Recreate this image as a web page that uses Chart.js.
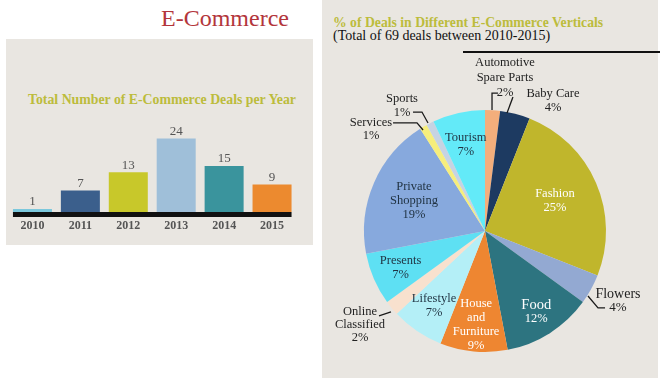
<!DOCTYPE html>
<html>
<head>
<meta charset="utf-8">
<script src="https://cdn.jsdelivr.net/npm/chart.js@4"></script>
<style>
  html, body { margin: 0; padding: 0; background: #fff; }
  body { position: relative; width: 666px; height: 392px; overflow: hidden; font-family: "Liberation Serif", serif; }
  .panel { position: absolute; background: #e9e6e1; }
  .txt { position: absolute; white-space: nowrap; line-height: 1; }
  .center { transform: translate(-50%, -50%); }
  .leftmid { transform: translateY(-50%); }
  canvas { position: absolute; }
</style>
</head>
<body>
<div class="panel" style="left:6px; top:39px; width:307px; height:206px;"></div>
<div class="panel" style="left:322px; top:0px; width:336px; height:378px;"></div>

<div class="txt center" style="left:225px; top:18px; font-size:24px; color:#b3353b;">E-Commerce</div>
<div class="txt center" style="left:162px; top:100px; font-size:13.8px; font-weight:bold; color:#bcbc3c;">Total Number of E-Commerce Deals per Year</div>

<div class="txt leftmid" style="left:333px; top:23px; font-size:13.7px; font-weight:bold; color:#bcbc3c;">% of Deals in Different E-Commerce Verticals</div>
<div class="txt leftmid" style="left:333px; top:36px; font-size:14px; color:#111;">(Total of 69 deals between 2010-2015)</div>
<div style="position:absolute; left:463px; top:51px; width:197px; height:1.5px; background:#111;"></div>

<canvas id="barChart" width="307" height="126" style="left:6px; top:119px;"></canvas>
<canvas id="pieChart" width="336" height="378" style="left:322px; top:0px;"></canvas>

<script>
// ===== DATA =====
const years = ['2010', '2011', '2012', '2013', '2014', '2015'];
const deals = [1, 7, 13, 24, 15, 9];
const barColors = ['#7cc8dc', '#3b5f8c', '#c8c82a', '#9fbfd9', '#3a949d', '#ec8a2f'];

const verticals = ['Automotive\nSpare Parts', 'Baby Care', 'Fashion', 'Flowers', 'Food',
    'House\nand\nFurniture', 'Lifestyle', 'Online\nClassified', 'Presents',
    'Private\nShopping', 'Services', 'Sports', 'Tourism'];
const shares = [2, 4, 25, 4, 12, 9, 7, 2, 7, 19, 1, 1, 7];
const pieColors = ['#f3ae7c', '#1d3a61', '#c0b62c', '#93a9d2', '#2d7480', '#ee8631', '#b4eff7',
    '#f8e1ce', '#5ee0f3', '#87a9dd', '#f6ee7c', '#c6d3e2', '#63eaf8'];

const FONT = '"Liberation Serif", serif';

// ===== BAR CHART =====
const barDecor = {
    id: 'barDecor',
    afterDatasetsDraw(chart) {
        const ctx = chart.ctx;
        const bars = chart.getDatasetMeta(0).data;
        const bottom = chart.chartArea.bottom;
        const first = bars[0], last = bars[bars.length - 1];
        ctx.save();
        // thick black base line
        ctx.fillStyle = '#111';
        ctx.fillRect(first.x - first.width / 2, bottom, (last.x + last.width / 2) - (first.x - first.width / 2), 5);
        ctx.textAlign = 'center';
        ctx.textBaseline = 'middle';
        bars.forEach((bar, i) => {
            ctx.fillStyle = '#555';
            ctx.font = '13px ' + FONT;
            ctx.fillText(String(deals[i]), bar.x, bar.y - 7);
            ctx.font = 'bold 12px ' + FONT;
            ctx.fillText(years[i], chart.scales.x.getPixelForValue(i), bottom + 14);
        });
        ctx.restore();
    }
};

new Chart(document.getElementById('barChart'), {
    type: 'bar',
    data: {
        labels: years,
        datasets: [{
            data: deals,
            backgroundColor: barColors,
            borderWidth: 0,
            barPercentage: 0.814,
            categoryPercentage: 1
        }]
    },
    options: {
        responsive: false,
        animation: false,
        layout: { padding: { left: 2.5, right: 17, top: 1, bottom: 33 } },
        plugins: { legend: { display: false }, tooltip: { enabled: false } },
        scales: {
            x: { display: false },
            y: { display: false, min: 0, max: 30 }
        }
    },
    plugins: [barDecor]
});

// ===== PIE CHART =====
// label placement: f = fraction of radius along slice middle (inside),
// out = block centre in radius units, leader = polyline in radius units
const labelSpec = [
    { out: [0.165, -1.264], lh: 15, leader: [[0.058, -1.0], [0.058, -1.14], [0.107, -1.14]] },
    { out: [0.562, -1.079], leader: [[0.182, -0.975], [0.231, -1.107]] },
    { f: 0.63, color: '#fff' },
    { out: [1.099, 0.579], size: 14, pct: 13, leader: [[0.851, 0.537], [0.934, 0.636], [0.992, 0.636]] },
    { f: 0.79, color: '#fff', size: 14.5 },
    { f: 0.78, color: '#fff' },
    { f: 0.75 },
    { out: [-1.033, 0.777], lh: 13, leader: [[-0.876, 0.702], [-0.777, 0.669]] },
    { f: 0.76 },
    { f: 0.64 },
    { out: [-0.942, -0.843], lh: 12.5, leader: [[-0.760, -0.893], [-0.562, -0.893], [-0.512, -0.835]] },
    { out: [-0.686, -1.033], lh: 14, leader: [[-0.595, -0.983], [-0.521, -0.983], [-0.471, -0.893]] },
    { f: 0.73 }
];

const pieLabels = {
    id: 'pieLabels',
    afterDraw(chart) {
        const ctx = chart.ctx;
        const arcs = chart.getDatasetMeta(0).data;
        ctx.save();
        ctx.textAlign = 'center';
        ctx.textBaseline = 'middle';
        arcs.forEach((arc, i) => {
            const p = arc.getProps(['x', 'y', 'startAngle', 'endAngle', 'outerRadius'], true);
            const spec = labelSpec[i];
            const R = p.outerRadius;
            let cx, cy;
            if (spec.out) {
                cx = p.x + spec.out[0] * R;
                cy = p.y + spec.out[1] * R;
                ctx.strokeStyle = '#1a1a1a';
                ctx.lineWidth = 1.3;
                ctx.beginPath();
                spec.leader.forEach((pt, k) => {
                    const lx = p.x + pt[0] * R, ly = p.y + pt[1] * R;
                    if (k === 0) ctx.moveTo(lx, ly); else ctx.lineTo(lx, ly);
                });
                ctx.stroke();
            } else {
                const mid = (p.startAngle + p.endAngle) / 2;
                cx = p.x + Math.cos(mid) * spec.f * R;
                cy = p.y + Math.sin(mid) * spec.f * R;
            }
            const lines = verticals[i].split('\n');
            lines.push(shares[i] + '%');
            const lh = spec.lh || 14;
            const top = cy - (lines.length - 1) * lh / 2;
            ctx.fillStyle = spec.color || (spec.out ? '#222' : '#1f3140');
            lines.forEach((t, k) => {
                const isPct = k === lines.length - 1;
                const size = isPct ? (spec.pct || 12.5) : (spec.size || 12.5);
                ctx.font = size + 'px ' + FONT;
                ctx.fillText(t, cx, top + k * lh);
            });
        });
        ctx.restore();
    }
};

new Chart(document.getElementById('pieChart'), {
    type: 'pie',
    data: {
        labels: verticals,
        datasets: [{
            data: shares,
            backgroundColor: pieColors,
            borderWidth: 0
        }]
    },
    options: {
        responsive: false,
        animation: false,
        layout: { padding: { left: 42, right: 52, top: 110, bottom: 26 } },
        plugins: { legend: { display: false }, tooltip: { enabled: false } }
    },
    plugins: [pieLabels]
});
</script>
</body>
</html>
